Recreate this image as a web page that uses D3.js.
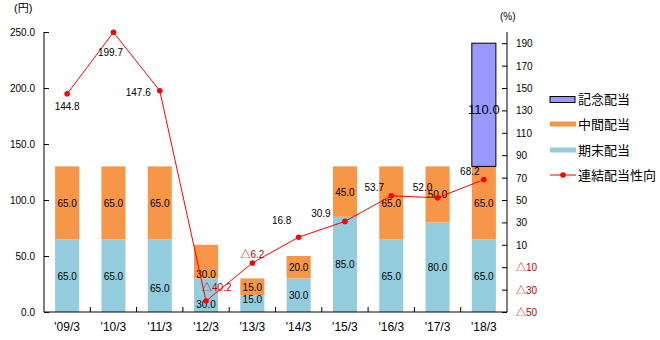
<!DOCTYPE html>
<html><head><meta charset="utf-8">
<script src="https://cdn.jsdelivr.net/npm/d3@7"></script>
<style>
body{margin:0;background:#fff;}
text{font-family:"Liberation Sans","Noto Sans CJK JP",sans-serif;}
</style></head>
<body><svg id="c" width="660" height="340"></svg>
<script>
const categories = ["'09/3","'10/3","'11/3","'12/3","'13/3","'14/3","'15/3","'16/3","'17/3","'18/3"];
const yearEnd   = [65,65,65,30,15,30,85,65,80,65];      // 期末配当
const interim   = [65,65,65,30,15,20,45,65,50,65];      // 中間配当
const memorial  = [0,0,0,0,0,0,0,0,0,110];              // 記念配当
const payout    = [144.8,199.7,147.6,-40.2,-6.2,16.8,30.9,53.7,52.0,68.2]; // 連結配当性向
const leftTicks = [0,50,100,150,200,250];
const rightTicks = [-50,-30,-10,10,30,50,70,90,110,130,150,170,190];

const colors = {yearEnd:"#93CDDD", interim:"#F79646", memorial:"#9999FF", line:"#FF0000"};
const svg = d3.select("#c");
const m = {l:44, r:507, t:32, b:312};
const x = d3.scaleBand().domain(categories).range([m.l, m.r]).paddingInner(0.48).paddingOuter(0.24);
const yL = d3.scaleLinear().domain([0,250]).range([m.b, m.t]);
const yR = d3.scaleLinear().domain([-50,200]).range([m.b, m.t]);

const fmt = v => v.toFixed(1);

// bars
const series = [
  {key:"yearEnd", vals:yearEnd},
  {key:"interim", vals:interim},
  {key:"memorial", vals:memorial}
];
categories.forEach((c,i)=>{
  let base = 0;
  series.forEach(s=>{
    const v = s.vals[i];
    if(v<=0) return;
    const y0 = yL(base), y1 = yL(base+v);
    svg.append("rect").attr("x", x(c)).attr("y", y1).attr("width", x.bandwidth()).attr("height", y0-y1)
      .attr("fill", colors[s.key])
      .attr("stroke", s.key==="memorial" ? "#000" : "none").attr("stroke-width", 1);
    base += v;
  });
});
// bar label nudges (category index - series index : pixel shift)
const labelNudge = {"2-0":12, "3-0":9, "3-1":12, "4-0":-5, "9-2":5};
categories.forEach((c,i)=>{
  let base = 0;
  series.forEach((s,j)=>{
    const v = s.vals[i];
    if(v<=0) return;
    const mid = (yL(base)+yL(base+v))/2 + (labelNudge[i+"-"+j]||0);
    svg.append("text").attr("x", x(c)+x.bandwidth()/2).attr("y", mid+4)
      .attr("text-anchor","middle").attr("font-size", s.key==="memorial"?13:10).attr("fill","#000")
      .text(fmt(v));
    base += v;
  });
});

// axes
const axL = svg.append("g").attr("transform",`translate(${m.l},0)`)
  .call(d3.axisRight(yL).tickValues(leftTicks).tickSize(5).tickFormat(""));
axL.select(".domain").attr("d",`M0,${m.b}V${m.t}`);
leftTicks.forEach(t=>{
  svg.append("text").attr("x", 35).attr("y", yL(t)+4).attr("text-anchor","end").attr("font-size",10).text(fmt(t));
});
const axR = svg.append("g").attr("transform",`translate(${m.r},0)`)
  .call(d3.axisLeft(yR).tickValues(rightTicks).tickSize(5).tickFormat(""));
axR.select(".domain").attr("d",`M0,${m.b}V${m.t}`);
rightTicks.forEach(t=>{
  svg.append("text").attr("x", 516).attr("y", yR(t)+4).attr("font-size",10)
    .attr("fill", t<0 ? "#C00000" : "#000")
    .text(t<0 ? "△"+Math.abs(t) : t);
});
// x axis
const axB = svg.append("g").attr("transform",`translate(0,${m.b})`);
axB.append("line").attr("x1",m.l).attr("x2",m.r).attr("y1",0).attr("y2",0).attr("stroke","#000");
const step = x.step();
categories.slice(1).forEach((c,i)=>{
  const bx = x(c) - x.paddingInner()*step/2;
  axB.append("line").attr("x1",bx).attr("x2",bx).attr("y1",0).attr("y2",-5).attr("stroke","#000");
});
categories.forEach(c=>{
  svg.append("text").attr("x", x(c)+x.bandwidth()/2).attr("y", 331).attr("text-anchor","middle")
    .attr("font-size",12).text(c);
});
svg.selectAll(".tick line").attr("stroke","#000");

// unit labels
svg.append("text").attr("x",14).attr("y",12).attr("font-size",11).text("(円)");
svg.append("text").attr("x",500).attr("y",20).attr("font-size",10).text("(%)");

// line
const cx = c => x(c)+x.bandwidth()/2;
const line = d3.line().x((d,i)=>cx(categories[i])).y(d=>yR(d));
svg.append("path").datum(payout).attr("d",line).attr("fill","none").attr("stroke",colors.line).attr("stroke-width",1);
svg.selectAll(".pt").data(payout).enter().append("circle")
  .attr("cx",(d,i)=>cx(categories[i])).attr("cy",d=>yR(d)).attr("r",2.8).attr("fill",colors.line);
// payout label offsets (dx, dy, anchor)
const lblOff = [[0,16,"middle"],[-3,24,"middle"],[-9,5,"end"],[-4,-10,"start"],[0,-5,"middle"],
                [-17,-13,"middle"],[-24,-4,"middle"],[-17,-5,"middle"],[-15,-7,"middle"],[-14,-5,"middle"]];
payout.forEach((v,i)=>{
  const o = lblOff[i];
  svg.append("text").attr("x", cx(categories[i])+o[0]).attr("y", yR(v)+o[1]).attr("text-anchor",o[2])
    .attr("font-size",10).attr("fill", v<0 ? "#C00000" : "#000")
    .text(v<0 ? "△"+fmt(Math.abs(v)) : fmt(v));
});

// legend
const lg = svg.append("g");
lg.append("rect").attr("x",550).attr("y",96.5).attr("width",25).attr("height",6).attr("fill",colors.memorial).attr("stroke","#000");
lg.append("text").attr("x",578).attr("y",104).attr("font-size",13).text("記念配当");
lg.append("rect").attr("x",550).attr("y",121.5).attr("width",26).attr("height",5).attr("fill",colors.interim);
lg.append("text").attr("x",578).attr("y",129).attr("font-size",13).text("中間配当");
lg.append("rect").attr("x",550).attr("y",147.5).attr("width",26).attr("height",5).attr("fill",colors.yearEnd);
lg.append("text").attr("x",578).attr("y",155).attr("font-size",13).text("期末配当");
lg.append("line").attr("x1",550).attr("x2",576).attr("y1",175).attr("y2",175).attr("stroke",colors.line);
lg.append("circle").attr("cx",563).attr("cy",175).attr("r",2.8).attr("fill",colors.line);
lg.append("text").attr("x",578).attr("y",180).attr("font-size",13).text("連結配当性向");
</script></body></html>
